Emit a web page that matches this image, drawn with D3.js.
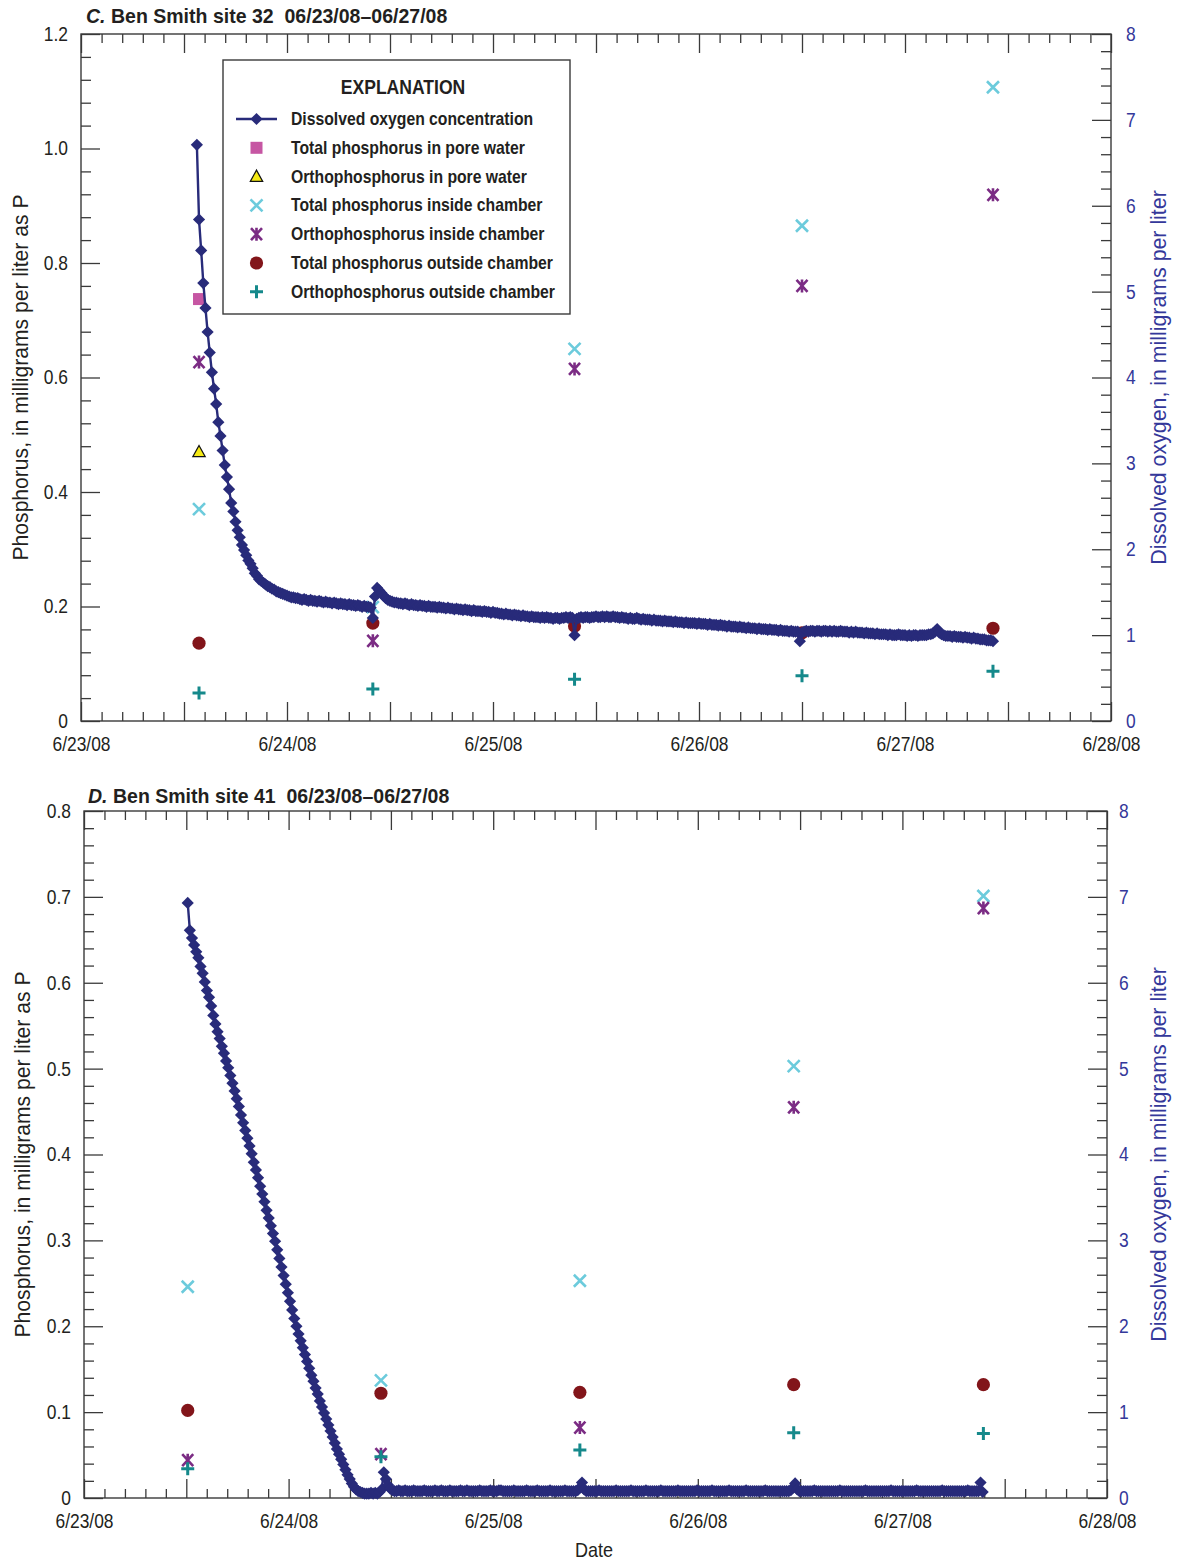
<!DOCTYPE html>
<html><head><meta charset="utf-8">
<script src="https://cdn.jsdelivr.net/npm/d3@7"></script>
<style>
body{margin:0;background:#fff;}
svg text{font-family:"Liberation Sans",Arial,sans-serif;}
</style></head><body>
<svg id="chart" width="1177" height="1563"></svg>
<script>
// ---------------- DATA ----------------
const dayTicks = ["2008-06-23 00:00","2008-06-24 00:00","2008-06-25 00:00","2008-06-26 00:00","2008-06-27 00:00","2008-06-28 00:00"];
const dayTickLabels = ["6/23/08","6/24/08","6/25/08","6/26/08","6/27/08","6/28/08"];
const phosTicksC = [0,0.2,0.4,0.6,0.8,1.0,1.2];
const phosTickLabelsC = ["0","0.2","0.4","0.6","0.8","1.0","1.2"];
const phosTicksD = [0,0.1,0.2,0.3,0.4,0.5,0.6,0.7,0.8];
const phosTickLabelsD = ["0","0.1","0.2","0.3","0.4","0.5","0.6","0.7","0.8"];
const doTicks = [0,1,2,3,4,5,6,7,8];
const doTickLabels = ["0","1","2","3","4","5","6","7","8"];

const legendLabels = ["Dissolved oxygen concentration","Total phosphorus in pore water","Orthophosphorus in pore water","Total phosphorus inside chamber","Orthophosphorus inside chamber","Total phosphorus outside chamber","Orthophosphorus outside chamber"];

// Panel C (site 32)
const sampleTimesC = ["2008-06-23 13:45","2008-06-24 10:00","2008-06-25 09:30","2008-06-26 12:00","2008-06-27 10:15"];
const tpPoreC  = [0.737,null,null,null,null];
const opPoreC  = [0.470,null,null,null,null];
const tpInC    = [0.370,0.199,0.650,0.865,1.107];
const opInC    = [0.627,0.140,0.615,0.760,0.919];
const tpOutC   = [0.136,0.171,0.166,0.154,0.162];
const opOutC   = [0.049,0.056,0.073,0.079,0.087];
const doStartC = "2008-06-23 13:30";
const doStepMinC = 15;
const doC = [
6.71,5.84,5.48,5.10,4.81,4.53,4.29,4.06,3.87,3.69,
3.48,3.32,3.15,2.98,2.84,2.70,2.54,2.44,2.32,2.22,
2.14,2.05,1.99,1.93,1.87,1.83,1.78,1.72,1.69,1.65,
1.63,1.61,1.59,1.57,1.56,1.54,1.53,1.51,1.50,1.49,
1.48,1.47,1.46,1.45,1.44,1.44,1.43,1.43,1.42,1.41,
1.42,1.41,1.40,1.41,1.40,1.40,1.39,1.40,1.39,1.38,
1.39,1.38,1.38,1.37,1.38,1.37,1.36,1.37,1.36,1.36,
1.35,1.36,1.35,1.35,1.34,1.35,1.34,1.33,1.34,1.33,
1.33,1.32,1.20,1.45,1.55,1.52,1.49,1.46,1.43,1.41,
1.40,1.39,1.38,1.38,1.37,1.37,1.36,1.37,1.36,1.35,
1.36,1.35,1.35,1.34,1.35,1.34,1.34,1.33,1.34,1.33,
1.33,1.33,1.32,1.33,1.32,1.32,1.31,1.32,1.31,1.31,
1.30,1.31,1.30,1.30,1.29,1.30,1.29,1.29,1.28,1.29,
1.28,1.28,1.28,1.27,1.28,1.27,1.27,1.26,1.27,1.26,
1.26,1.25,1.25,1.24,1.25,1.24,1.24,1.23,1.24,1.23,
1.23,1.22,1.23,1.22,1.22,1.21,1.22,1.21,1.21,1.21,
1.20,1.21,1.20,1.21,1.20,1.20,1.19,1.20,1.20,1.19,
1.20,1.20,1.21,1.20,1.21,1.20,1.00,1.19,1.20,1.21,
1.20,1.21,1.21,1.20,1.21,1.21,1.22,1.21,1.21,1.22,
1.21,1.22,1.21,1.21,1.22,1.21,1.21,1.20,1.21,1.20,
1.20,1.19,1.20,1.19,1.19,1.20,1.19,1.18,1.19,1.18,
1.18,1.18,1.17,1.18,1.17,1.17,1.17,1.16,1.17,1.16,
1.16,1.16,1.15,1.16,1.15,1.15,1.15,1.14,1.15,1.14,
1.14,1.14,1.14,1.13,1.14,1.13,1.13,1.13,1.12,1.13,
1.12,1.12,1.12,1.11,1.12,1.11,1.11,1.10,1.11,1.10,
1.10,1.10,1.09,1.10,1.09,1.09,1.08,1.09,1.08,1.08,
1.08,1.07,1.08,1.07,1.07,1.07,1.06,1.07,1.06,1.06,
1.06,1.05,1.06,1.05,1.05,1.05,1.04,1.05,1.04,1.04,
1.04,0.93,1.03,1.04,1.05,1.04,1.05,1.05,1.04,1.05,
1.05,1.04,1.05,1.05,1.04,1.05,1.04,1.05,1.04,1.04,
1.05,1.04,1.04,1.04,1.03,1.04,1.03,1.04,1.03,1.03,
1.03,1.02,1.03,1.02,1.02,1.02,1.01,1.02,1.01,1.01,
1.01,1.01,1.00,1.01,1.00,1.00,1.00,1.01,1.00,1.00,
1.00,0.99,1.00,0.99,1.00,1.00,0.99,1.00,1.00,1.00,
1.00,1.01,1.01,1.02,1.04,1.07,1.03,1.01,1.00,0.99,
0.99,0.99,0.98,0.99,0.98,0.98,0.98,0.97,0.98,0.97,
0.97,0.96,0.97,0.96,0.96,0.95,0.95,0.95,0.94,0.94,
0.94,0.93];

// Panel D (site 41)
const sampleTimesD = ["2008-06-23 12:10","2008-06-24 10:50","2008-06-25 10:10","2008-06-26 11:15","2008-06-27 09:30"];
const tpInD    = [0.246,0.137,0.253,0.503,0.701];
const opInD    = [0.044,0.051,0.082,0.455,0.687];
const tpOutD   = [0.102,0.122,0.123,0.132,0.132];
const opOutD   = [0.034,0.048,0.056,0.076,0.075];
const doStartD = "2008-06-23 12:10";
const doStepMinD = 15;
const doD = [
6.93,6.61,6.52,6.44,6.36,6.29,6.19,6.11,6.01,5.91,
5.83,5.73,5.62,5.52,5.43,5.35,5.26,5.18,5.09,5.01,
4.92,4.83,4.74,4.65,4.56,4.46,4.37,4.28,4.19,4.10,
4.01,3.91,3.82,3.73,3.63,3.54,3.45,3.35,3.26,3.17,
3.08,2.99,2.89,2.79,2.69,2.59,2.49,2.39,2.29,2.19,
2.09,2.00,1.91,1.83,1.75,1.67,1.59,1.51,1.43,1.36,
1.28,1.21,1.13,1.06,0.99,0.92,0.85,0.78,0.71,0.64,
0.57,0.51,0.45,0.39,0.33,0.27,0.22,0.17,0.13,0.10,
0.08,0.07,0.06,0.05,0.05,0.05,0.06,0.05,0.06,0.05,
0.07,0.10,0.30,0.22,0.15,0.11,0.09,0.08,0.08,0.09,
0.08,0.08,0.09,0.08,0.08,0.08,0.09,0.08,0.08,0.08,
0.08,0.09,0.08,0.08,0.08,0.08,0.09,0.08,0.08,0.09,
0.08,0.08,0.08,0.09,0.08,0.08,0.08,0.08,0.09,0.08,
0.08,0.09,0.08,0.08,0.08,0.08,0.08,0.09,0.08,0.08,
0.08,0.08,0.09,0.08,0.08,0.08,0.09,0.09,0.08,0.08,
0.08,0.08,0.08,0.09,0.08,0.08,0.08,0.08,0.08,0.09,
0.08,0.08,0.08,0.08,0.09,0.08,0.08,0.08,0.08,0.08,
0.09,0.08,0.08,0.08,0.08,0.08,0.08,0.09,0.08,0.08,
0.08,0.08,0.08,0.09,0.12,0.18,0.10,0.08,0.08,0.08,
0.08,0.08,0.08,0.09,0.08,0.08,0.08,0.08,0.08,0.08,
0.08,0.09,0.08,0.08,0.08,0.08,0.08,0.08,0.09,0.08,
0.08,0.08,0.08,0.08,0.08,0.09,0.08,0.08,0.08,0.08,
0.08,0.08,0.09,0.08,0.08,0.08,0.08,0.08,0.08,0.08,
0.09,0.08,0.08,0.08,0.08,0.08,0.08,0.08,0.08,0.09,
0.08,0.08,0.08,0.08,0.08,0.08,0.09,0.08,0.08,0.08,
0.08,0.08,0.08,0.08,0.09,0.08,0.08,0.08,0.08,0.08,
0.08,0.08,0.09,0.08,0.08,0.08,0.08,0.08,0.08,0.08,
0.08,0.09,0.08,0.08,0.08,0.08,0.08,0.08,0.08,0.08,
0.08,0.08,0.08,0.09,0.12,0.17,0.10,0.08,0.08,0.08,
0.08,0.08,0.08,0.08,0.09,0.08,0.08,0.08,0.08,0.08,
0.08,0.08,0.08,0.08,0.08,0.08,0.09,0.08,0.08,0.08,
0.08,0.08,0.08,0.08,0.08,0.08,0.08,0.08,0.09,0.08,
0.08,0.08,0.08,0.08,0.08,0.08,0.08,0.08,0.08,0.08,
0.09,0.08,0.08,0.08,0.08,0.08,0.08,0.08,0.08,0.08,
0.08,0.08,0.09,0.08,0.08,0.08,0.08,0.08,0.08,0.08,
0.08,0.08,0.08,0.08,0.09,0.08,0.08,0.08,0.08,0.08,
0.08,0.08,0.08,0.08,0.08,0.08,0.09,0.08,0.08,0.08,
0.08,0.08,0.18,0.07];

// ---------------- DRAWING ----------------
const parse = d3.timeParse("%Y-%m-%d %H:%M");
const svg = d3.select("#chart");
const INK = "#231f20", AXC = "#3a3a3a", BLUE = "#34389a", DOC = "#282b7a";
const COL = {square:"#c656a3", tri:"#f5ea14", x:"#6ccbdc", ast:"#7b2c84", circ:"#82151a", plus:"#15898b"};

// horizontally condense text (reference uses a condensed face)
function squeeze(sel, sx){
  sel.each(function(){
    const t = d3.select(this);
    const x = +t.attr("x") || 0, y = +t.attr("y") || 0;
    const pre = t.attr("transform") || "";
    t.attr("x",null).attr("y",null).attr("transform", `${pre} translate(${x},${y}) scale(${sx},1)`);
  });
}

function shape(sel, kind){
  if(kind==="square") sel.append("rect").attr("x",-6).attr("y",-6).attr("width",12).attr("height",12).attr("fill",COL.square);
  else if(kind==="tri") sel.append("path").attr("d","M0,-6.5L6.2,4.8L-6.2,4.8Z").attr("fill",COL.tri).attr("stroke","#111").attr("stroke-width",1.2);
  else if(kind==="x") sel.append("path").attr("d","M-6,-6L6,6M-6,6L6,-6").attr("stroke",COL.x).attr("stroke-width",2.6).attr("fill","none");
  else if(kind==="ast") sel.append("path").attr("d","M-5.5,-6L5.5,6M-5.5,6L5.5,-6M0,-6.5L0,6.5").attr("stroke",COL.ast).attr("stroke-width",2.6).attr("fill","none");
  else if(kind==="circ") sel.append("circle").attr("r",6.6).attr("fill",COL.circ);
  else if(kind==="plus") sel.append("path").attr("d","M-6.5,0H6.5M0,-6.5V6.5").attr("stroke",COL.plus).attr("stroke-width",3).attr("fill","none");
  else if(kind==="diamond") sel.append("path").attr("d","M0,-6.1L6.1,0L0,6.1L-6.1,0Z").attr("fill",DOC);
}

const TICK_SX = 0.87;

function drawPanel(p){
  const g = svg.append("g");
  const t0 = parse(dayTicks[0]);
  const x = d3.scaleTime().domain([t0, parse(dayTicks[dayTicks.length-1])]).range([p.l,p.r]);
  const yP = d3.scaleLinear().domain([0,p.phosMax]).range([p.b,p.t]);
  const yO = d3.scaleLinear().domain([0,8]).range([p.b,p.t]);

  const tenth = d3.range(0,51).map(k=>d3.timeMinute.offset(t0,k*144));
  const minorX = tenth.filter((d,k)=>k%5!==0);
  const majorX = tenth.filter((d,k)=>k%5===0);
  const labelOf = new Map(dayTicks.map((d,i)=>[+parse(d), dayTickLabels[i]]));
  const clean = s=>{ s.select(".domain").remove(); s.selectAll("line").attr("stroke",AXC).attr("stroke-width",1.3); };
  const styleText = (s,col)=>{ const t=s.selectAll("text").attr("fill",col).style("font-size","20px"); squeeze(t,TICK_SX); };

  g.append("g").attr("transform",`translate(0,${p.b})`).call(d3.axisBottom(x).tickValues(minorX).tickSize(-9).tickFormat("")).call(clean);
  g.append("g").attr("transform",`translate(0,${p.b})`)
    .call(d3.axisBottom(x).tickValues(majorX).tickSize(-19).tickPadding(p.xPad).tickFormat(d=>labelOf.get(+d)||""))
    .call(clean).call(s=>styleText(s,INK));
  g.append("g").attr("transform",`translate(0,${p.t})`).call(d3.axisTop(x).tickValues(minorX).tickSize(-9).tickFormat("")).call(clean);
  g.append("g").attr("transform",`translate(0,${p.t})`).call(d3.axisTop(x).tickValues(majorX).tickSize(-19).tickFormat("")).call(clean);

  const nMinor = Math.round(p.phosMax/p.phosMinor);
  const minorP = d3.range(0,nMinor+1).map(k=>k*p.phosMinor).filter(v=>!p.phosTicks.some(t=>Math.abs(t-v)<1e-6));
  const plab = new Map(p.phosTicks.map((t,i)=>[t.toFixed(2), p.phosLabels[i]]));
  g.append("g").attr("transform",`translate(${p.l},0)`).call(d3.axisLeft(yP).tickValues(minorP).tickSize(-10).tickFormat("")).call(clean);
  g.append("g").attr("transform",`translate(${p.l},0)`)
    .call(d3.axisLeft(yP).tickValues(p.phosTicks).tickSize(-19).tickPadding(p.lPad).tickFormat(d=>plab.get(d.toFixed(2))))
    .call(clean).call(s=>styleText(s,INK));
  const minorO = d3.range(0,41).map(k=>k*0.2).filter(v=>Math.abs(v-Math.round(v))>1e-6);
  g.append("g").attr("transform",`translate(${p.r},0)`).call(d3.axisRight(yO).tickValues(minorO).tickSize(-10).tickFormat("")).call(clean);
  g.append("g").attr("transform",`translate(${p.r},0)`)
    .call(d3.axisRight(yO).tickValues(doTicks).tickSize(-19).tickPadding(p.rPad).tickFormat((d,i)=>doTickLabels[i]))
    .call(clean).call(s=>styleText(s,BLUE));

  g.append("rect").attr("x",p.l).attr("y",p.t).attr("width",p.r-p.l).attr("height",p.b-p.t)
    .attr("fill","none").attr("stroke",AXC).attr("stroke-width",1.4);

  const tt = g.append("text").attr("x",p.titleX).attr("y",p.titleY).style("font-size","21px").style("font-weight","bold").attr("fill",INK).style("white-space","pre");
  tt.append("tspan").style("font-style","italic").text(p.letter);
  tt.append("tspan").text(" " + p.title);
  squeeze(tt, 0.93);

  g.append("text").attr("transform",`translate(${p.lTitleX},${(p.t+p.b)/2}) rotate(-90) scale(0.96,1)`).attr("text-anchor","middle")
    .attr("fill",INK).style("font-size","22px").text("Phosphorus, in milligrams per liter as P");
  g.append("text").attr("transform",`translate(${p.rTitleX},${(p.t+p.b)/2}) rotate(-90) scale(0.97,1)`).attr("text-anchor","middle")
    .attr("fill",BLUE).style("font-size","22px").text("Dissolved oxygen, in milligrams per liter");

  const pts = (vals, kind)=>{
    const data = p.times.map((t,i)=>({t:parse(t), v:vals[i]})).filter(d=>d.v!=null);
    const s = g.append("g").selectAll("g").data(data).enter().append("g")
      .attr("transform",d=>`translate(${x(d.t)},${yP(d.v)})`);
    shape(s, kind);
  };
  p.series.forEach(([vals,kind])=>pts(vals,kind));

  const ds = parse(p.doStart);
  const doData = p.doVals.map((v,i)=>({t:d3.timeMinute.offset(ds, i*p.doStep), v}));
  g.append("path").datum(doData).attr("fill","none").attr("stroke",DOC).attr("stroke-width",2.4)
    .attr("d", d3.line().x(d=>x(d.t)).y(d=>yO(d.v)));
  const dm = g.append("g").selectAll("g").data(doData).enter().append("g")
    .attr("transform",d=>`translate(${x(d.t)},${yO(d.v)})`);
  shape(dm,"diamond");
}

drawPanel({l:81, r:1111, t:34, b:721, phosMax:1.2, phosTicks:phosTicksC, phosLabels:phosTickLabelsC, phosMinor:0.04,
  xPad:16, lPad:13, rPad:15, letter:"C.", title:"Ben Smith site 32  06/23/08–06/27/08", titleX:86, titleY:23,
  lTitleX:28, rTitleX:1166, times:sampleTimesC,
  series:[[tpPoreC,"square"],[opPoreC,"tri"],[tpInC,"x"],[opInC,"ast"],[tpOutC,"circ"],[opOutC,"plus"]],
  doStart:doStartC, doStep:doStepMinC, doVals:doC});

drawPanel({l:84, r:1107, t:811, b:1498, phosMax:0.8, phosTicks:phosTicksD, phosLabels:phosTickLabelsD, phosMinor:0.02,
  xPad:16, lPad:13, rPad:12, letter:"D.", title:"Ben Smith site 41  06/23/08–06/27/08", titleX:88, titleY:803,
  lTitleX:30, rTitleX:1166, times:sampleTimesD,
  series:[[tpInD,"x"],[opInD,"ast"],[tpOutD,"circ"],[opOutD,"plus"]],
  doStart:doStartD, doStep:doStepMinD, doVals:doD});

const dt = svg.append("text").attr("x",594).attr("y",1557).attr("text-anchor","middle").attr("fill",INK).style("font-size","20px").text("Date");
squeeze(dt, 0.9);

// legend
const lg = svg.append("g");
lg.append("rect").attr("x",223).attr("y",60).attr("width",347).attr("height",254).attr("fill","#fff").attr("stroke",AXC).attr("stroke-width",1.4);
const ex = lg.append("text").attr("x",403).attr("y",94).attr("text-anchor","middle").attr("fill",INK).style("font-size","19.5px").style("font-weight","bold").text("EXPLANATION");
squeeze(ex, 0.9);
const kinds = ["diamond","square","tri","x","ast","circ","plus"];
legendLabels.forEach((lab,i)=>{
  const yy = 119 + i*28.8;
  const item = lg.append("g").attr("transform",`translate(256.5,${yy})`);
  if(i===0) item.append("line").attr("x1",-20.5).attr("x2",20.5).attr("stroke",DOC).attr("stroke-width",2.4);
  shape(item, kinds[i]);
  const tx = lg.append("text").attr("x",291).attr("y",yy+6).attr("fill",INK).style("font-size","17.5px").style("font-weight","bold").text(lab);
  squeeze(tx, 0.9);
});
</script></body></html>
